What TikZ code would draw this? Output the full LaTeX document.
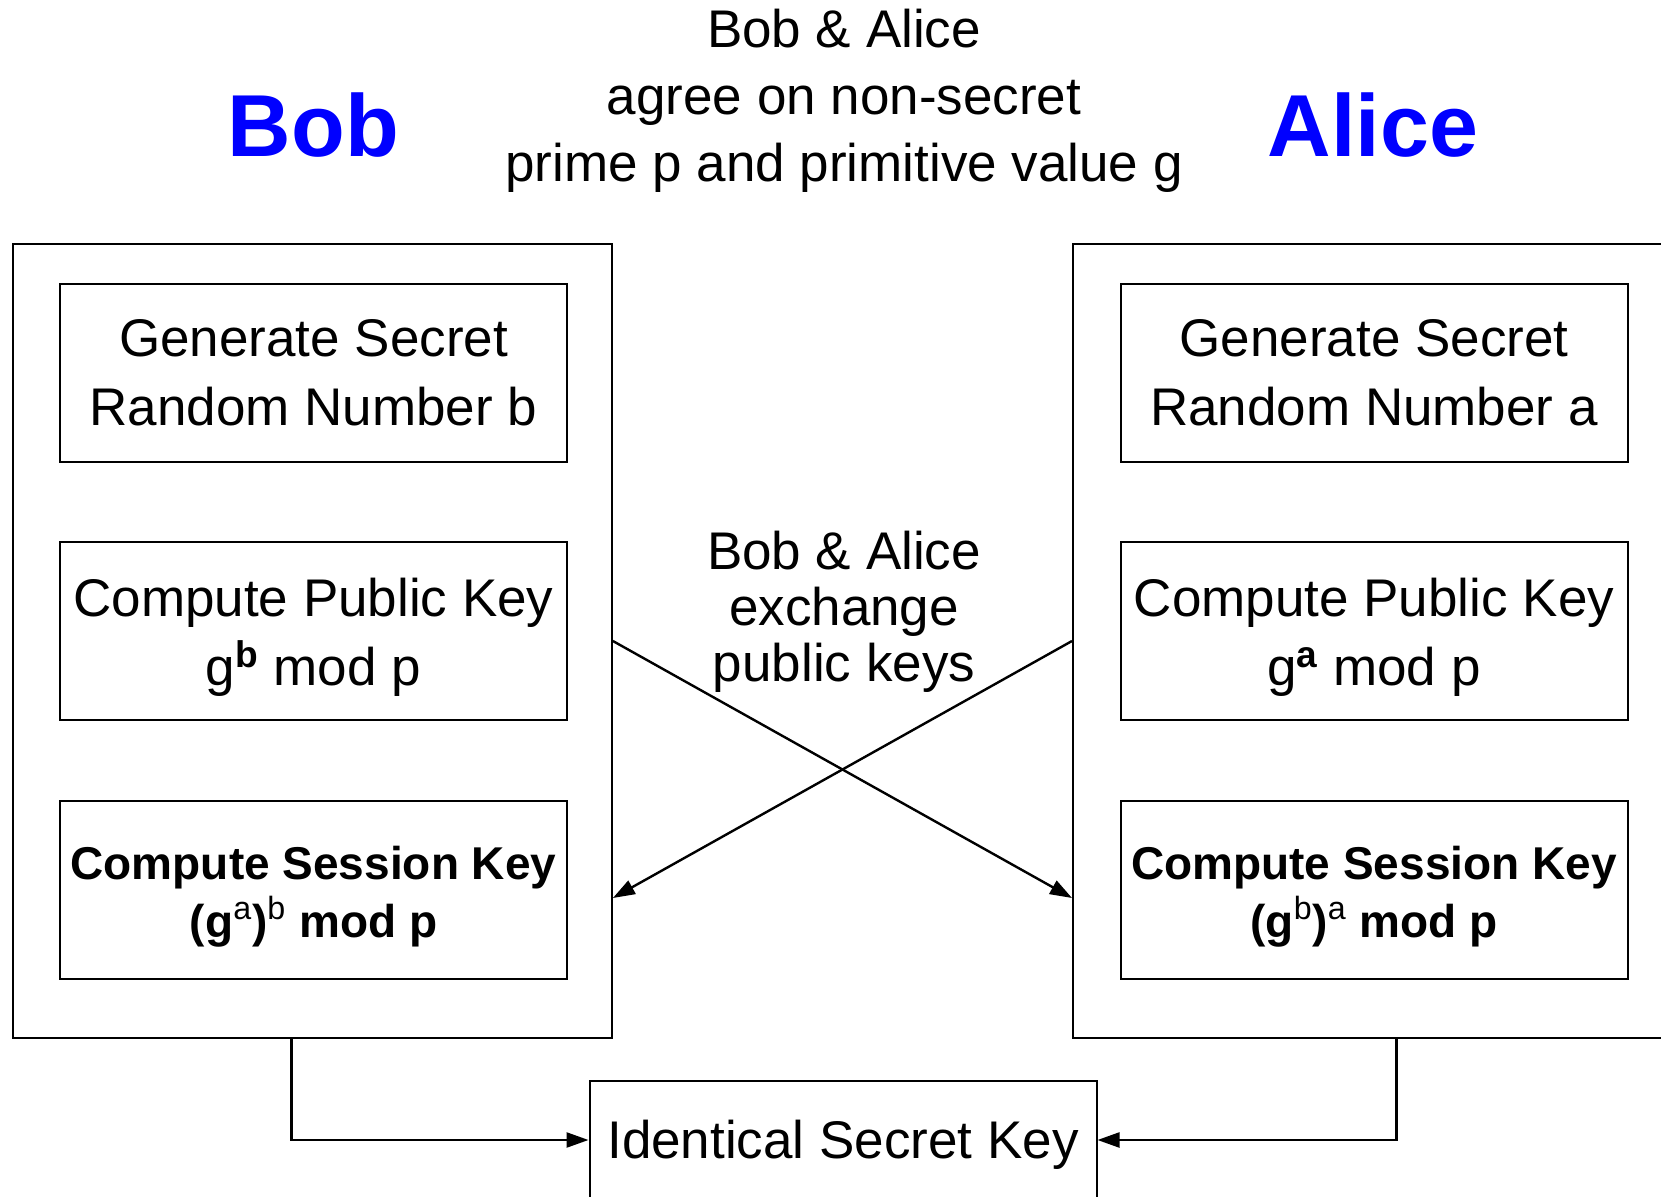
\documentclass[tikz,border=0pt]{standalone}
\usepackage{fontspec}
\setmainfont{Liberation Sans}
\usetikzlibrary{arrows.meta,calc}

% tall strut at the start of a first line, pushes the text block down
\newcommand{\topstrut}[1]{\rule{0pt}{#1}}

\tikzset{
  party/.style={draw, rectangle, line width=1pt, minimum width=299.5pt, minimum height=397pt},
  stepbox/.style={draw, rectangle, line width=1pt, minimum width=253.5pt, minimum height=89pt,
    inner sep=0pt, align=center, font=\fontsize{26.5}{34.5}\selectfont},
  sessbox/.style={stepbox, font=\fontsize{23}{29}\selectfont\bfseries},
  arr/.style={-{Triangle[length=11pt,width=7.5pt]}, line width=1.2pt}
}

\begin{document}
\begin{tikzpicture}[x=0.5pt, y=-0.5pt]
      \useasboundingbox (0,0) rectangle (1661,1197);
      \clip (0,0) rectangle (1661,1197);

      % names and the agreed values
      \node[font=\fontsize{44}{50}\selectfont\bfseries, text=blue] (bobname) at (313.5,125) {Bob};
      \node[font=\fontsize{44}{50}\selectfont\bfseries, text=blue] (alicename) at (1373,125) {Alice};
      \node[align=center, font=\fontsize{26.5}{33.5}\selectfont] (agree) at (844,101)
        {Bob \& Alice\\agree on non-secret\\prime p and primitive value g};

      % Bob
      \node[party] (bob) at (312.4,641) {};
      \node[stepbox] (bgen) at (313.5,373) {Generate Secret\\Random Number b};
      \node[stepbox] (bpub) at (313.5,631) {\topstrut{25.3pt}Compute Public Key\\g\textsuperscript{\bfseries b} mod p};
      \node[sessbox] (bsess) at (313.5,890) {\topstrut{23.8pt}Compute Session Key\\(g\textsuperscript{\mdseries a})\textsuperscript{\mdseries b} mod p};

      % Alice
      \node[party] (alice) at (1372.5,641) {};
      \node[stepbox] (agen) at (1374,373) {Generate Secret\\Random Number a};
      \node[stepbox] (apub) at (1374,631) {\topstrut{25.3pt}Compute Public Key\\g\textsuperscript{\bfseries a} mod p};
      \node[sessbox] (asess) at (1374,890) {\topstrut{23.8pt}Compute Session Key\\(g\textsuperscript{\mdseries b})\textsuperscript{\mdseries a} mod p};

      \node[align=center, font=\fontsize{26.5}{28}\selectfont] (swap) at (844,612)
        {Bob \& Alice\\exchange\\public keys};
      \node[stepbox, minimum height=59.5pt] (key) at (843,1140) {\topstrut{24.3pt}Identical Secret Key};

      \draw[arr] (bob.east) -- ($(alice.west |- asess.center)+(0,8)$);
      \draw[arr] (alice.west) -- ($(bob.east |- bsess.center)+(0,8)$);
      \draw[arr] ([xshift=-10.5pt]bob.south) |- (key.west);
      \draw[arr] ([xshift=12pt]alice.south) |- (key.east);
    \end{tikzpicture}
\end{document}
